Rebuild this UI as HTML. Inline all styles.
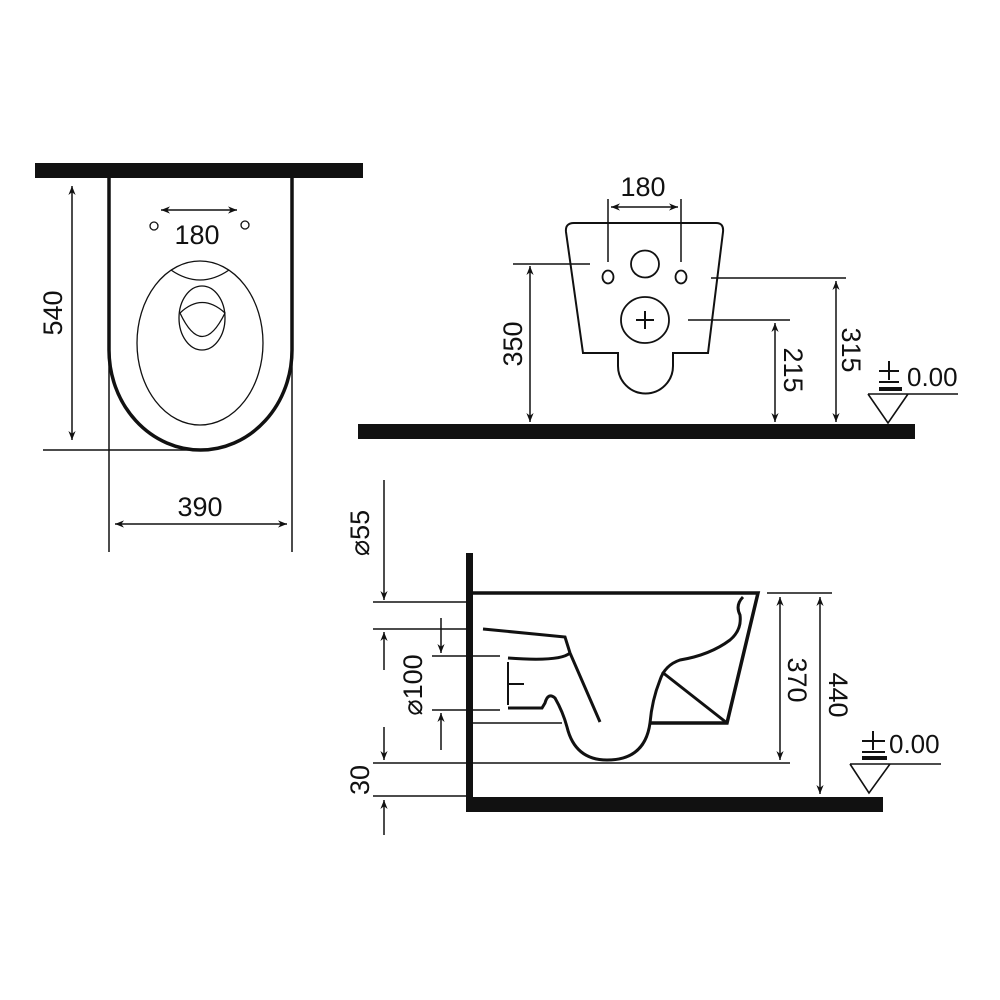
<!DOCTYPE html>
<html><head><meta charset="utf-8"><style>
html,body{margin:0;padding:0;background:#fff;}
svg{display:block;}
text{font-family:"Liberation Sans",sans-serif;fill:#111;}
</style></head><body>
<svg width="1000" height="1000" viewBox="0 0 1000 1000" xmlns="http://www.w3.org/2000/svg">
<defs>
<marker id="a" viewBox="0 0 10 10" refX="10" refY="5" markerWidth="9" markerHeight="9" orient="auto-start-reverse" markerUnits="userSpaceOnUse"><path d="M0,1 L10,5 L0,9 L3,5 Z" fill="#111"/></marker>
</defs>
<g stroke="#111" fill="none">
<!-- TOP VIEW -->
<rect x="35" y="163" width="328" height="15" fill="#111" stroke="none"/>
<path d="M109,178 V350 A91.5,100 0 0 0 292,350 V178" stroke-width="3.5"/>
<line x1="109" y1="350" x2="109" y2="552" stroke-width="1.5"/>
<line x1="292" y1="350" x2="292" y2="552" stroke-width="1.5"/>
<line x1="43" y1="450" x2="200" y2="450" stroke-width="1.5"/>
<line x1="72" y1="186" x2="72" y2="440" stroke-width="1.5" marker-start="url(#a)" marker-end="url(#a)"/>
<line x1="161" y1="210" x2="237" y2="210" stroke-width="1.5" marker-start="url(#a)" marker-end="url(#a)"/>
<circle cx="154" cy="226" r="4" stroke-width="1.3"/>
<circle cx="245" cy="225" r="4" stroke-width="1.3"/>
<ellipse cx="200" cy="343" rx="63" ry="82" stroke-width="1.3"/>
<path d="M171,270 Q200,290 229,270" stroke-width="1.3"/>
<ellipse cx="202" cy="318" rx="23" ry="32" stroke-width="1.3"/>
<path d="M180,313 Q202,292 225,313 Q202,360 180,313" stroke-width="1.3"/>
<line x1="115" y1="524" x2="287" y2="524" stroke-width="1.5" marker-start="url(#a)" marker-end="url(#a)"/>

<!-- FRONT VIEW -->
<rect x="358" y="424" width="557" height="15" fill="#111" stroke="none"/>
<path d="M574,223 H716 Q724,223 723,232 L708,353 H673 V366 A27.5,27.5 0 0 1 618,366 V353 H583 L566,232 Q565,223 574,223 Z" stroke-width="2"/>
<line x1="608" y1="199" x2="608" y2="262" stroke-width="1.5"/>
<line x1="681" y1="199" x2="681" y2="262" stroke-width="1.5"/>
<line x1="611" y1="207" x2="678" y2="207" stroke-width="1.5" marker-start="url(#a)" marker-end="url(#a)"/>
<ellipse cx="608" cy="277" rx="5.5" ry="6.5" stroke-width="1.8"/>
<ellipse cx="681" cy="277" rx="5.5" ry="6.5" stroke-width="1.8"/>
<ellipse cx="645" cy="264" rx="14" ry="13.5" stroke-width="1.8"/>
<ellipse cx="645" cy="320" rx="24" ry="23" stroke-width="1.8"/>
<path d="M636,320 H654 M645,311 V329" stroke-width="2"/>
<line x1="513" y1="264" x2="590" y2="264" stroke-width="1.5"/>
<line x1="530" y1="266" x2="530" y2="422" stroke-width="1.5" marker-start="url(#a)" marker-end="url(#a)"/>
<line x1="711" y1="278" x2="846" y2="278" stroke-width="1.5"/>
<line x1="836" y1="281" x2="836" y2="422" stroke-width="1.5" marker-start="url(#a)" marker-end="url(#a)"/>
<line x1="688" y1="320" x2="790" y2="320" stroke-width="1.5"/>
<line x1="775" y1="323" x2="775" y2="422" stroke-width="1.5" marker-start="url(#a)" marker-end="url(#a)"/>
<line x1="879" y1="371" x2="899" y2="371" stroke-width="2"/>
<line x1="889" y1="361" x2="889" y2="380" stroke-width="2"/>
<line x1="879" y1="382" x2="899" y2="382" stroke-width="2"/>
<line x1="879" y1="389" x2="902" y2="389" stroke-width="4"/>
<path d="M868,394 H958 M868,394 L888,423 L908,394" stroke-width="1.6"/>

<!-- SIDE VIEW -->
<rect x="466" y="553" width="7" height="259" fill="#111" stroke="none"/>
<rect x="466" y="797" width="417" height="15" fill="#111" stroke="none"/>
<path d="M473,593 H758 L727,723 H650" stroke-width="3.5"/>
<line x1="662" y1="672" x2="727" y2="723" stroke-width="3"/>
<path d="M743,597 Q735,605 740,615 Q742,630 730,640 Q710,655 680,660 Q665,665 660,680 Q652,700 650,723 Q645,760 607,760 Q575,760 567,727 Q563,712 555,698 Q548,692 545,703 L542,708 H508" stroke-width="3"/>
<path d="M483,629 L565,637 L570,653 L600,722" stroke-width="3"/>
<path d="M570,653 Q560,662 508,658" stroke-width="3"/>
<line x1="508" y1="662" x2="508" y2="705" stroke-width="2"/>
<line x1="508" y1="684" x2="524" y2="684" stroke-width="2"/>
<g stroke-width="1.5">
<line x1="373" y1="602" x2="467" y2="602"/>
<line x1="373" y1="629" x2="467" y2="629"/>
<line x1="432" y1="656" x2="500" y2="656"/>
<line x1="432" y1="710" x2="500" y2="710"/>
<line x1="473" y1="723" x2="562" y2="723"/>
<line x1="373" y1="763" x2="790" y2="763"/>
<line x1="373" y1="796" x2="467" y2="796"/>
<line x1="767" y1="593" x2="832" y2="593"/>
<line x1="384" y1="480" x2="384" y2="600" marker-end="url(#a)"/>
<line x1="384" y1="670" x2="384" y2="632" marker-end="url(#a)"/>
<line x1="384" y1="727" x2="384" y2="760" marker-end="url(#a)"/>
<line x1="384" y1="835" x2="384" y2="800" marker-end="url(#a)"/>
<line x1="441" y1="618" x2="441" y2="653" marker-end="url(#a)"/>
<line x1="441" y1="750" x2="441" y2="713" marker-end="url(#a)"/>
<line x1="780" y1="597" x2="780" y2="760" marker-start="url(#a)" marker-end="url(#a)"/>
<line x1="820" y1="597" x2="820" y2="794" marker-start="url(#a)" marker-end="url(#a)"/>
</g>
<line x1="862" y1="741" x2="885" y2="741" stroke-width="2"/>
<line x1="873" y1="731" x2="873" y2="750" stroke-width="2"/>
<line x1="862" y1="752" x2="885" y2="752" stroke-width="2"/>
<line x1="862" y1="758" x2="887" y2="758" stroke-width="4"/>
<path d="M850,764 H941 M850,764 L869,793 L890,764" stroke-width="1.6"/>
</g>

<g font-size="27">
<text x="197" y="244" text-anchor="middle">180</text>
<text x="200" y="516" text-anchor="middle">390</text>
<text transform="translate(62,313) rotate(-90)" text-anchor="middle">540</text>
<text x="643" y="196" text-anchor="middle">180</text>
<text transform="translate(522,344) rotate(-90)" text-anchor="middle">350</text>
<text transform="translate(842,350) rotate(90)" text-anchor="middle">315</text>
<text transform="translate(784,370) rotate(90)" text-anchor="middle">215</text>
<text x="907" y="386" font-size="26">0.00</text>
<text transform="translate(369,533) rotate(-90)" text-anchor="middle">⌀55</text>
<text transform="translate(422,685) rotate(-90)" text-anchor="middle">⌀100</text>
<text transform="translate(369,780) rotate(-90)" text-anchor="middle">30</text>
<text transform="translate(788,680) rotate(90)" text-anchor="middle">370</text>
<text transform="translate(829,695) rotate(90)" text-anchor="middle">440</text>
<text x="889" y="753" font-size="26">0.00</text>
</g>
</svg>
</body></html>
